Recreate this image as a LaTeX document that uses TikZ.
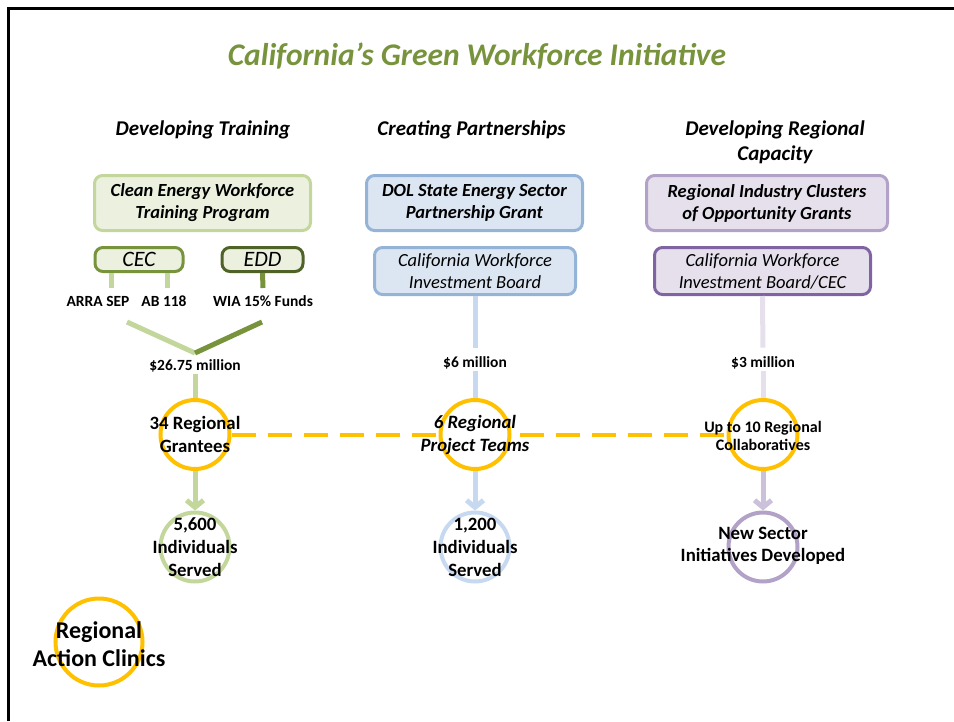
\documentclass[tikz,border=0pt]{standalone}
\usepackage{fontspec}
\setmainfont{Carlito}
\usetikzlibrary{arrows.meta,backgrounds}
\definecolor{titlegreen}{HTML}{77933C}
\definecolor{gfill}{HTML}{EBF1DE}
\definecolor{glight}{HTML}{C3D69B}
\definecolor{gmid}{HTML}{77933C}
\definecolor{gdark}{HTML}{4F6228}
\definecolor{bfill}{HTML}{DCE6F2}
\definecolor{bborder}{HTML}{95B3D7}
\definecolor{blight}{HTML}{C6D9F1}
\definecolor{pfill}{HTML}{E5E0EC}
\definecolor{pborder}{HTML}{B3A2C7}
\definecolor{pdark}{HTML}{8064A2}
\definecolor{plight}{HTML}{CCC1DA}
\definecolor{yel}{HTML}{FFC000}
\begin{document}
\begin{tikzpicture}[x=1pt,y=-1pt,
  titlestyle/.style={font=\fontsize{31.5}{36}\selectfont\bfseries\itshape, text=titlegreen},
  hdr/.style={font=\fontsize{21}{25}\selectfont\bfseries\itshape, align=center},
  boxbase/.style={rounded corners=8pt, line width=3pt, inner sep=0pt, align=center},
  bigbox/.style={boxbase, font=\fontsize{18.5}{22}\selectfont\bfseries\itshape, minimum height=55pt},
  smallbox/.style={boxbase, font=\fontsize{22}{24}\selectfont\itshape, minimum height=24pt},
  midbox/.style={boxbase, font=\fontsize{18.5}{22}\selectfont\itshape, minimum height=47pt},
  lbl/.style={font=\fontsize{15.5}{18}\selectfont\bfseries, inner sep=2pt},
  ring/.style={circle, line width=4pt, fill=white, minimum size=69pt, inner sep=0pt},
  ctxt/.style={font=\fontsize{18.8}{23}\selectfont\bfseries, align=center, inner sep=0pt},
  conn/.style={line width=5pt},
  arr/.style={line width=5pt, -{Straight Barb[length=7pt,width=17pt]}},
  ydash/.style={draw=yel, line width=4pt, dash pattern=on 24pt off 12pt}
]
\useasboundingbox (0,0) rectangle (954,721);
% frame
\coordinate (fbl) at (8.5,721);
\coordinate (ftl) at (8.5,8.5);
\coordinate (ftr) at (954,8.5);
\draw[line width=3pt] (fbl) -- (ftl) -- (ftr);

% title and headers
\node[titlestyle] (title) at (477,56) {California’s Green Workforce Initiative};
\node[hdr] (h1) at (203,130) {Developing Training};
\node[hdr] (h2) at (471.5,130) {Creating Partnerships};
\node[hdr] (h3) at (775,142.5) {Developing Regional\\Capacity};

% column 1
\node[bigbox, draw=glight, fill=gfill, minimum width=216pt] (b1) at (202.5,203) {Clean Energy Workforce\\Training Program};
\node[smallbox, draw=gmid, fill=gfill, minimum width=88pt] (cec) at (139,259.5) {CEC};
\node[smallbox, draw=gdark, fill=gfill, minimum width=81pt] (edd) at (262.5,259.5) {EDD};
\node[lbl] (arra) at (98,301) {ARRA SEP};
\node[lbl] (ab) at (164,301) {AB 118};
\node[lbl] (wia) at (263,301) {WIA 15\% Funds};
\draw[conn, draw=glight] (cec.south -| 111,0) -- (111,288);
\draw[conn, draw=glight] (cec.south -| 167,0) -- (167,288);
\draw[conn, draw=gmid] (edd.south) -- (263,288);
\coordinate (apex) at (195,353);
\coordinate (vl) at (127,322);
\coordinate (vr) at (262,322);
\draw[conn, draw=glight] (vl) -- (apex);
\draw[conn, draw=gmid] (vr) -- (apex);
\node[lbl] (m1) at (195,366) {\$26.75 million};
\node[ring, draw=yel] (g1) at (195,434.5) {};
\node[ring, draw=glight] (s1) at (195,547) {};
\draw[conn, draw=glight] (m1.south) -- (g1.north);
\draw[arr, draw=glight] (g1.south) -- (s1.north);
\node[ctxt] (g1t) at (195,434.5) {34 Regional\\Grantees};
\node[ctxt] (s1t) at (195,547) {5,600\\Individuals\\Served};

% column 2
\node[bigbox, draw=bborder, fill=bfill, minimum width=216pt] (b2) at (474.5,203) {DOL State Energy Sector\\Partnership Grant};
\node[midbox, draw=bborder, fill=bfill, minimum width=201pt] (c2) at (475,271) {California Workforce\\Investment Board};
\node[lbl] (m2) at (475,363) {\$6 million};
\node[ring, draw=yel] (g2) at (475,434.5) {};
\node[ring, draw=blight] (s2) at (475,547) {};
\draw[conn, draw=blight, shorten >=7pt] (c2.south) -- (m2.north);
\draw[conn, draw=blight] (m2.south) -- (g2.north);
\draw[arr, draw=blight] (g2.south) -- (s2.north);
\node[ctxt, font=\fontsize{18.8}{23}\selectfont\bfseries\itshape] (g2t) at (475,434.5) {6 Regional\\Project Teams};
\node[ctxt] (s2t) at (475,547) {1,200\\Individuals\\Served};

% column 3
\node[bigbox, draw=pborder, fill=pfill, minimum width=241pt] (b3) at (767,203) {Regional Industry Clusters\\of Opportunity Grants};
\node[midbox, draw=pdark, fill=pfill, minimum width=216pt] (c3) at (762.5,271) {California Workforce\\Investment Board/CEC};
\node[lbl] (m3) at (763,363) {\$3 million};
\node[ring, draw=yel] (g3) at (763,434.5) {};
\node[ring, draw=pborder] (s3) at (763,547) {};
\draw[conn, draw=pfill, shorten >=7pt] (c3.south) -- (m3.north);
\draw[conn, draw=pfill] (m3.south) -- (g3.north);
\draw[arr, draw=plight] (g3.south) -- (s3.north);
\node[ctxt, font=\fontsize{16}{18}\selectfont\bfseries] (g3t) at (763,436) {Up to 10 Regional\\Collaboratives};
\node[ctxt, font=\fontsize{18.8}{22}\selectfont\bfseries] (s3t) at (763,546) {New Sector\\Initiatives Developed};

% dashed link between the regional circles
\begin{scope}[on background layer]
\draw[ydash] (g1.east) -- (g3.west);
\end{scope}

% regional action clinics
\node[ring, draw=yel, minimum size=87pt] (rac) at (99,642) {};
\node[ctxt, font=\fontsize{24}{28}\selectfont\bfseries] (ract) at (99,644) {Regional\\Action Clinics};
\end{tikzpicture}
\end{document}
